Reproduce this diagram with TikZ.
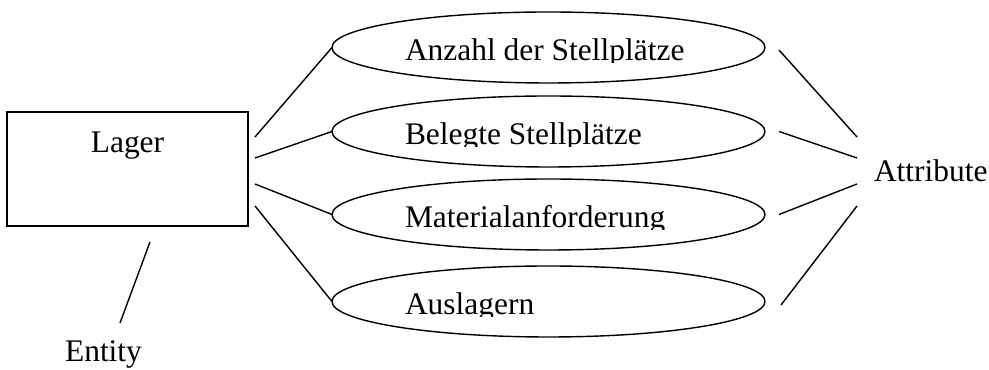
\documentclass[tikz,border=0pt]{standalone}
\usepackage{fontspec}
\setmainfont{Liberation Serif}
\usetikzlibrary{shapes}

\begin{document}
\begin{tikzpicture}[line width=0.8pt,
    every node/.style={font=\fontsize{17.9}{21}\selectfont, inner sep=0pt, outer sep=0pt},
    entitybox/.style={draw, rectangle, minimum width=4.82cm, minimum height=2.28cm},
    attrbox/.style={draw, ellipse, minimum width=8.66cm, minimum height=1.42cm},
    attrtext/.style={anchor=base west}]
    \useasboundingbox (0,0) rectangle (19.78,7.4);

    % Entitaet
    \node[entitybox] (lager) at (2.55,4.02) {};
    \node[anchor=base] (lagertext) at ([yshift=-8.2mm]lager.north) {Lager};
    \node[anchor=base] (entity) at (2.07,0.16) {Entity};
    \draw ([xshift=4.5mm,yshift=-3.2mm]lager.south) -- ([xshift=3.3mm,yshift=7.8mm]entity.base);

    % Attribute
    \node[attrbox] (anzahl) at (10.97,6.45) {};
    \node[attrbox] (belegt) at (10.97,4.77) {};
    \node[attrbox] (material) at (10.97,3.11) {};
    \node[attrbox] (auslagern) at (10.97,1.37) {};
    \begin{scope}
        \clip ([yshift=-3mm]anzahl.west) rectangle ([yshift=7mm]anzahl.east)
              ([yshift=-3mm]belegt.west) rectangle ([yshift=7mm]belegt.east)
              ([yshift=-3mm]material.west) rectangle ([yshift=7mm]material.east)
              ([yshift=-3mm]auslagern.west) rectangle ([yshift=7mm]auslagern.east);
        \node[attrtext] (anzahltext) at ([xshift=14.6mm,yshift=-2.7mm]anzahl.west) {Anzahl der Stellplätze};
        \node[attrtext] (belegttext) at ([xshift=14.6mm,yshift=-2.7mm]belegt.west) {Belegte Stellplätze};
        \node[attrtext] (materialtext) at ([xshift=14.6mm,yshift=-2.7mm]material.west) {Materialanforderung};
        \node[attrtext] (auslagerntext) at ([xshift=14.6mm,yshift=-2.7mm]auslagern.west) {Auslagern};
    \end{scope}
    \node[anchor=base west] (attribute) at (17.48,3.76) {Attribute};

    % Verbindungen
    \draw ([xshift=1.4mm,yshift=6.4mm]lager.east) -- (anzahl.west);
    \draw ([xshift=1.4mm,yshift=2.2mm]lager.east) -- (belegt.west);
    \draw ([xshift=1.4mm,yshift=-3mm]lager.east) -- (material.west);
    \draw ([xshift=1.4mm,yshift=-7.4mm]lager.east) -- (auslagern.west);

    \draw ([xshift=2.8mm,yshift=-0.5mm]anzahl.east) -- ([xshift=-3.4mm,yshift=9mm]attribute.base west);
    \draw ([xshift=2.8mm]belegt.east) -- ([xshift=-3.4mm,yshift=4.8mm]attribute.base west);
    \draw ([xshift=2.8mm]material.east) -- ([xshift=-3.4mm,yshift=-0.4mm]attribute.base west);
    \draw ([xshift=3.2mm,yshift=-0.7mm]auslagern.east) -- ([xshift=-3.4mm,yshift=-4.8mm]attribute.base west);
\end{tikzpicture}
\end{document}
